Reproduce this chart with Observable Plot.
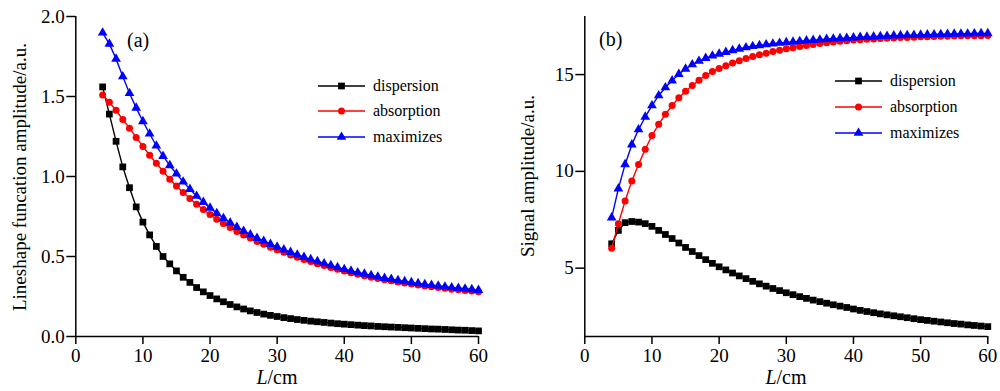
<!DOCTYPE html>
<html><head><meta charset="utf-8">
<script src="https://cdn.jsdelivr.net/npm/d3@7"></script>
<script src="https://cdn.jsdelivr.net/npm/@observablehq/plot@0.6"></script>
<style>
html,body{margin:0;padding:0;background:#fff;}
#wrap{position:relative;width:1000px;height:391px;overflow:hidden;font-family:"Liberation Serif","Times New Roman",serif;color:#000;}
#wrap svg.plot{position:absolute;top:0;}
.lab{position:absolute;white-space:nowrap;font-size:19px;line-height:1;}
.ylab{transform:translate(-50%,-50%) rotate(-90deg);}
.xlab{transform:translate(-50%,0);font-size:20px;}
.tag{font-size:20px;}
.leg{position:absolute;font-size:16px;line-height:1;white-space:nowrap;}
.leg .row{position:absolute;left:0;display:flex;align-items:center;}
.leg svg{display:block;margin-right:7px;}
</style>
</head><body>
<div id="wrap"></div>
<script>
// ---- data ----
const lengthCm = [4,5,6,7,8,9,10,11,12,13,14,15,16,17,18,19,20,21,22,23,24,25,26,27,28,29,30,31,32,33,34,35,36,37,38,39,40,41,42,43,44,45,46,47,48,49,50,51,52,53,54,55,56,57,58,59,60];

const aDispersion = [1.56,1.39,1.22,1.06,0.93,0.81,0.715,0.635,0.563,0.50,0.454,0.41,0.37,0.338,0.306,0.279,0.256,0.235,0.217,0.200,0.185,0.172,0.160,0.150,0.140,0.132,0.125,0.118,0.112,0.106,0.101,0.096,0.092,0.088,0.084,0.080,0.077,0.074,0.071,0.068,0.066,0.063,0.061,0.059,0.057,0.055,0.053,0.051,0.049,0.047,0.046,0.044,0.042,0.040,0.039,0.037,0.035];
const aAbsorption = [1.51,1.464,1.414,1.356,1.302,1.244,1.188,1.133,1.083,1.033,0.983,0.940,0.900,0.862,0.827,0.794,0.763,0.733,0.706,0.681,0.656,0.635,0.615,0.594,0.577,0.558,0.542,0.526,0.510,0.495,0.481,0.468,0.455,0.443,0.431,0.420,0.409,0.399,0.389,0.380,0.371,0.363,0.355,0.348,0.341,0.334,0.328,0.322,0.316,0.311,0.306,0.301,0.296,0.292,0.288,0.284,0.280];
const aMaximizes = [1.898,1.829,1.735,1.625,1.52,1.429,1.344,1.267,1.192,1.127,1.069,1.017,0.967,0.921,0.878,0.840,0.804,0.770,0.739,0.711,0.683,0.659,0.637,0.615,0.597,0.577,0.560,0.543,0.527,0.511,0.496,0.482,0.469,0.456,0.444,0.432,0.420,0.410,0.400,0.391,0.382,0.373,0.365,0.358,0.351,0.344,0.338,0.332,0.326,0.321,0.316,0.311,0.306,0.302,0.298,0.294,0.290];

const bDispersion = [6.26,6.95,7.35,7.41,7.38,7.30,7.16,6.95,6.74,6.53,6.30,6.07,5.86,5.65,5.44,5.25,5.07,4.91,4.75,4.60,4.46,4.32,4.19,4.07,3.95,3.84,3.73,3.63,3.53,3.44,3.35,3.27,3.19,3.11,3.04,2.97,2.89,2.82,2.76,2.70,2.64,2.59,2.54,2.49,2.44,2.39,2.34,2.30,2.26,2.22,2.18,2.14,2.11,2.07,2.04,2.01,1.98];
const bAbsorption = [6.03,7.30,8.47,9.50,10.36,11.14,11.85,12.43,12.95,13.40,13.80,14.14,14.44,14.71,14.95,15.16,15.32,15.46,15.60,15.72,15.83,15.93,16.02,16.10,16.19,16.26,16.33,16.39,16.45,16.50,16.55,16.60,16.64,16.68,16.72,16.75,16.78,16.80,16.82,16.84,16.86,16.88,16.89,16.91,16.92,16.93,16.95,16.96,16.97,16.98,16.98,16.99,17.00,17.00,17.01,17.01,17.02];
const bMaximizes = [7.61,9.11,10.36,11.38,12.16,12.81,13.40,13.92,14.33,14.69,15.02,15.29,15.52,15.70,15.85,15.97,16.07,16.16,16.25,16.33,16.40,16.46,16.51,16.55,16.59,16.63,16.66,16.69,16.72,16.75,16.78,16.80,16.83,16.85,16.87,16.89,16.91,16.93,16.95,16.96,16.98,16.99,17.01,17.02,17.03,17.04,17.05,17.06,17.07,17.08,17.09,17.10,17.11,17.11,17.12,17.13,17.13];

const seriesNames = ["dispersion","absorption","maximizes"];
const seriesColors = ["#000000","#ff0000","#0000ff"];
const seriesSymbols = ["square","circle","triangle"];
const seriesR = [3.8,3.5,3.6];

const xDomain = [0, 60];
const xTicks = [0,10,20,30,40,50,60];
const aYDomain = [0, 2.0];
const aYTicks = [0,0.5,1.0,1.5,2.0];
const bYDomain = [1.47, 18];
const bYTicks = [5,10,15];

const aTitle = "Lineshape funcation amplitude/a.u.";
const bTitle = "Signal amplitude/a.u.";

// ---- drawing ----
const FONT = '"Liberation Serif","Times New Roman",serif';
const wrap = document.getElementById("wrap");

function makePanel(values, yDomain, yTicks, yFmt, mL, mR, left) {
  const marks = [
    Plot.ruleX([xDomain[0]], {stroke:"#000", strokeWidth:1.5}),
    Plot.ruleY([yDomain[0]], {stroke:"#000", strokeWidth:1.5}),
    Plot.axisX({ticks: xTicks, tickSize: 8, tickPadding: 4, label: null, tickFormat: d => String(d), strokeWidth: 1.5}),
    Plot.axisY({ticks: yTicks, tickSize: 9, tickPadding: 2, label: null, tickFormat: yFmt, strokeWidth: 1.5})
  ];
  values.forEach((arr, i) => {
    const rows = lengthCm.map((L, j) => ({L, v: arr[j]}));
    marks.push(Plot.line(rows, {x:"L", y:"v", stroke: seriesColors[i], strokeWidth: 1.4}));
    marks.push(Plot.dot(rows, {x:"L", y:"v", symbol: seriesSymbols[i], fill: seriesColors[i], stroke: "none", r: seriesR[i]}));
  });
  const svg = Plot.plot({
    width: 500, height: 391,
    marginLeft: mL, marginRight: mR, marginTop: 16, marginBottom: 55,
    x: {domain: xDomain},
    y: {domain: yDomain},
    style: {fontFamily: FONT, fontSize: "19px", color: "#000", background: "transparent", overflow: "visible"},
    marks
  });
  svg.classList.add("plot");
  svg.style.left = left + "px";
  wrap.appendChild(svg);
}

makePanel([aDispersion, aAbsorption, aMaximizes], aYDomain, aYTicks, d3.format(".1f"), 75.3, 22, 0);
makePanel([bDispersion, bAbsorption, bMaximizes], bYDomain, bYTicks, d => String(d), 84.3, 12.7, 500);

function addLabel(cls, html, x, y) {
  const d = document.createElement("div");
  d.className = "lab " + cls;
  d.innerHTML = html;
  d.style.left = x + "px";
  d.style.top = y + "px";
  wrap.appendChild(d);
}
addLabel("ylab", aTitle, 19, 177);
addLabel("ylab", bTitle, 527, 176);
addLabel("xlab", "<i>L</i>/cm", 277, 367);
addLabel("xlab", "<i>L</i>/cm", 786, 367);
addLabel("tag", "(a)", 127, 30);
addLabel("tag", "(b)", 599, 29);

function addLegend(x, y0, gap) {
  const leg = document.createElement("div");
  leg.className = "leg";
  leg.style.left = x + "px";
  leg.style.top = y0 + "px";
  seriesNames.forEach((name, i) => {
    const row = document.createElement("div");
    row.className = "row";
    row.style.top = (i * gap - 9) + "px";
    const s = d3.create("svg").attr("width", 48).attr("height", 18);
    s.append("line").attr("x1", 0).attr("x2", 47).attr("y1", 9).attr("y2", 9)
      .attr("stroke", seriesColors[i]).attr("stroke-width", 1.4);
    const sym = d3.symbol(
      seriesSymbols[i] === "square" ? d3.symbolSquare : seriesSymbols[i] === "circle" ? d3.symbolCircle : d3.symbolTriangle,
      Math.PI * seriesR[i] * seriesR[i]);
    s.append("path").attr("d", sym()).attr("transform", "translate(23.5,9)").attr("fill", seriesColors[i]);
    row.appendChild(s.node());
    const t = document.createElement("span");
    t.textContent = name;
    row.appendChild(t);
    leg.appendChild(row);
  });
  wrap.appendChild(leg);
}
addLegend(318, 86, 25.3);
addLegend(835, 81, 25.8);
</script>
</body></html>
